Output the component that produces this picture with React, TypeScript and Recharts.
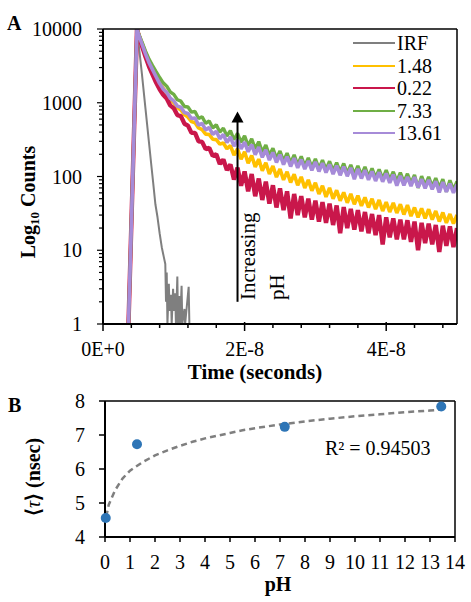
import { LineChart, Line, XAxis, YAxis, Legend, ReferenceLine, ReferenceDot, ComposedChart, Scatter } from 'recharts'

const FONT = "'Liberation Serif', 'Times New Roman', serif"

// Panel A: fluorescence decays, time in ns (axis labels in seconds)
const TIME_NS = [
  3.6, 4.8, 5, 5.5, 6, 6.5, 7, 7.5,
  8, 8.5, 9, 9.5, 10, 10.5, 11, 11.5, 12, 12.5,
  13, 13.5, 14, 14.5, 15, 15.5, 16, 16.5, 17, 17.5,
  18, 18.5, 19, 19.5, 20, 20.5, 21, 21.5, 22, 22.5,
  23, 23.5, 24, 24.5, 25, 25.5, 26, 26.5, 27, 27.5,
  28, 28.5, 29, 29.5, 30, 30.5, 31, 31.5, 32, 32.5,
  33, 33.5, 34, 34.5, 35, 35.5, 36, 36.5, 37, 37.5,
  38, 38.5, 39, 39.5, 40, 40.5, 41, 41.5, 42, 42.5,
  43, 43.5, 44, 44.5, 45, 45.5, 46, 46.5, 47, 47.5,
  48, 48.5, 49, 49.5, 50,
]
const PH148_COUNTS = [
  1, 10000, 8700, 6500, 4800, 3700, 2950, 2350,
  1900, 1570, 1360, 1130, 1000, 860, 800, 690, 640, 555,
  535, 455, 432, 375, 372, 320, 316, 275, 285, 238,
  262, 195, 237, 172, 216, 151, 193, 135, 172, 120,
  154, 108, 139, 98, 126, 90, 116, 83, 107, 76,
  99, 70, 90, 64, 82, 58, 75, 53, 70, 50,
  65, 47, 61, 44, 58, 42, 55, 40, 52, 38,
  50, 36, 48, 34, 45, 33, 44, 32, 42, 30.5,
  41, 29, 38, 28, 37, 27, 36, 26, 34, 24.5,
  32.5, 23.5, 31, 23, 30,
]
const PH022_COUNTS = [
  1, 10000, 8400, 5900, 4200, 3100, 2400, 1880,
  1520, 1280, 1140, 920, 840, 680, 660, 520, 490, 390,
  390, 300, 295, 235, 245, 190, 200, 148, 170, 122,
  146, 91, 132, 75, 117, 63, 108, 54, 94, 48,
  85, 43, 76, 38, 69, 35, 63, 27, 58, 30,
  54, 28, 50, 26, 47, 24.5, 45, 23.5, 43, 22,
  40.5, 17, 38.5, 20, 36.5, 19, 35, 18, 33, 17,
  31, 16, 30, 12, 28, 15, 27, 14, 26, 14,
  25.5, 13, 24.5, 10, 23.5, 12.5, 23, 12, 22, 9.5,
  21.5, 11.5, 21, 11, 20,
]
const PH733_COUNTS = [
  1, 10000, 8800, 6700, 5000, 3900, 3200, 2650,
  2200, 1860, 1680, 1400, 1300, 1100, 1050, 890, 875, 745,
  760, 611, 647, 525, 567, 454, 504, 398, 453, 354,
  419, 315, 384, 290, 356, 261, 325, 236, 297, 213,
  267, 192, 242, 175, 222, 162, 207, 152, 196, 144,
  187, 138, 179, 133, 173, 128, 167, 124, 161, 119,
  154, 115, 150, 110, 144, 107, 139, 104, 135, 99,
  129, 96, 125, 93, 122, 90, 116, 86, 113, 84,
  109, 81, 105, 70, 101, 76, 99, 73, 95, 70,
  92, 62, 89, 66, 86,
]
const PH1361_COUNTS = [
  1, 10000, 8600, 6300, 4600, 3500, 2800, 2250,
  1820, 1540, 1380, 1150, 1060, 900, 870, 735, 715, 610,
  620, 497, 524, 428, 464, 371, 410, 325, 372, 290,
  343, 258, 314, 237, 292, 216, 271, 198, 251, 182,
  230, 167, 212, 155, 198, 145, 186, 137, 177, 131,
  170, 126, 163, 121, 158, 117, 152, 113, 146, 108,
  140, 104, 136, 101, 131, 92, 127, 94, 122, 90,
  117, 87, 114, 85, 110, 82, 106, 75, 102, 76,
  99, 74, 98, 71, 92, 69, 90, 67, 86, 61,
  84, 62, 80, 60, 78,
]
const IRF_TIME_NS = [3.6, 4.8, 5.5, 6, 6.5, 6.8, 7.1, 7.4, 7.7, 8, 8.3, 8.6, 8.8, 8.9, 9, 9.1, 9.3, 9.4, 9.6, 9.7, 9.9, 10, 10.2, 10.3, 10.5, 10.6, 10.8, 10.9, 11.1, 11.2, 11.5, 11.6, 12.1, 12.2, 18.5]
const IRF_COUNTS = [1, 10000, 2450, 830, 285, 150, 80, 42, 28, 17, 11, 8, 6.5, 2, 5, 1, 3.5, 1.5, 2.5, 1, 3, 1.5, 2.6, 1, 4.4, 1, 2.4, 1, 3.3, 1, 1.6, 1, 3.2, 1, 1]

const X_TICKS_A = [0, 4, 8, 12, 16, 20, 24, 28, 32, 36, 40, 44, 48]
const X_LABELS_A: Record<number, string> = { 0: '0E+0', 20: '2E-8', 40: '4E-8' }
const Y_TICKS_A = [1, 2, 3, 4, 5, 6, 7, 8, 9, 10, 20, 30, 40, 50, 60, 70, 80, 90, 100, 200, 300, 400, 500, 600, 700, 800, 900, 1000, 2000, 3000, 4000, 5000, 6000, 7000, 8000, 9000, 10000]
const Y_MAJOR_A = [1, 10, 100, 1000, 10000]

// Panel B: mean lifetime vs pH
const PH = [0.03, 1.28, 7.19, 13.45]
const TAU_NS = [4.56, 6.73, 7.24, 7.84]
const FIT_PH = [0.05, 0.15, 0.4, 0.7, 1, 1.5, 2, 2.5, 3, 3.5, 4, 4.5, 5, 5.5, 6, 7, 8, 9, 10, 11, 12, 13, 13.5]
const FIT_TAU = [4.6, 4.95, 5.37, 5.72, 5.95, 6.2, 6.4, 6.55, 6.68, 6.8, 6.9, 6.98, 7.06, 7.14, 7.2, 7.31, 7.4, 7.48, 7.55, 7.61, 7.67, 7.72, 7.75]
const X_TICKS_B = [0, 1, 2, 3, 4, 5, 6, 7, 8, 9, 10, 11, 12, 13, 14]
const Y_TICKS_B = [4, 5, 6, 7, 8]
const R2_LABEL = 'R² = 0.94503'

const SERIES = [
  { name: 'IRF', color: '#7f7f7f', t: IRF_TIME_NS, c: IRF_COUNTS, w: 2 },
  { name: '1.48', color: '#ffc000', t: TIME_NS, c: PH148_COUNTS, w: 3.6 },
  { name: '0.22', color: '#c9174b', t: TIME_NS, c: PH022_COUNTS, w: 4.4 },
  { name: '7.33', color: '#6fae45', t: TIME_NS, c: PH733_COUNTS, w: 3.4 },
  { name: '13.61', color: '#a68bd8', t: TIME_NS, c: PH1361_COUNTS, w: 3.6 },
]

const points = PH.map((ph, i) => ({ ph, tau: TAU_NS[i] }))
const fit = FIT_PH.map((ph, i) => ({ ph, tau: FIT_TAU[i] }))

const txt = { fontFamily: FONT, fontSize: 20, fill: '#000' }

function YTickA({ x, y, payload }: any) {
  const major = Y_MAJOR_A.includes(payload.value)
  return (
    <g>
      <line x1={x - (major ? 6 : 4)} x2={x} y1={y} y2={y} stroke="#000" strokeWidth={1.2} />
      {major && <text x={x - 21} y={y} dy="0.36em" textAnchor="end" {...txt}>{payload.value}</text>}
    </g>
  )
}

function XTickA({ x, y, payload }: any) {
  const label = X_LABELS_A[payload.value]
  return (
    <g>
      <line x1={x} x2={x} y1={label ? y - 2 : y} y2={y + (label ? 7 : 4)} stroke="#000" strokeWidth={1.5} />
      {label && <text x={x} y={y} dy={32} textAnchor="middle" {...txt}>{label}</text>}
    </g>
  )
}

function YTickB({ x, y, payload }: any) {
  return (
    <g>
      <line x1={x - 6} x2={x} y1={y} y2={y} stroke="#000" strokeWidth={1.5} />
      <text x={x - 20} y={y} dy="0.36em" textAnchor="end" {...txt}>{payload.value}</text>
    </g>
  )
}

function XTickB({ x, y, payload }: any) {
  return (
    <g>
      <line x1={x} x2={x} y1={y} y2={y + 5} stroke="#000" strokeWidth={1.5} />
      <text x={x} y={y} dy={32} textAnchor="middle" {...txt}>{payload.value}</text>
    </g>
  )
}

function DecayLegend() {
  return (
    <div style={{ fontFamily: FONT, fontSize: 20, color: '#000' }}>
      {SERIES.map((s) => (
        <div key={s.name} style={{ display: 'flex', alignItems: 'center', height: 22.5, lineHeight: '22.5px' }}>
          <span style={{ width: 42, borderTop: `2px solid ${s.color}`, marginRight: 2 }} />
          <span>{s.name}</span>
        </div>
      ))}
    </div>
  )
}

const arrowHead = (p: any) => (
  <path d={`M${p.cx},${p.cy} L${p.cx - 6},${p.cy + 11} L${p.cx + 6},${p.cy + 11} Z`} fill="#000" />
)

const dot = (p: any) => <circle cx={p.cx} cy={p.cy} r={5} fill="#2e75b6" />

export default function App() {
  return (
    <div style={{ position: 'absolute', left: 0, top: 0, width: 471, height: 602, background: '#fff' }}>
      <div style={{ position: 'absolute', left: 0, top: 0 }}>
        <LineChart width={471} height={390} margin={{ top: 29, right: 14, bottom: 0, left: 0 }}>
          <XAxis
            type="number"
            dataKey="t"
            domain={[0, 50]}
            ticks={X_TICKS_A}
            interval={0}
            allowDataOverflow
            height={66}
            tickSize={0}
            tickMargin={0}
            tickLine={false}
            tick={<XTickA />}
            axisLine={{ stroke: '#000', strokeWidth: 2 }}
          />
          <YAxis
            type="number"
            scale="log"
            domain={[1, 10000]}
            ticks={Y_TICKS_A}
            interval={0}
            allowDataOverflow
            width={103}
            tickSize={0}
            tickMargin={0}
            tickLine={false}
            tick={<YTickA />}
            axisLine={{ stroke: '#000', strokeWidth: 2 }}
          />
          {SERIES.map((s) => (
            <Line
              key={s.name}
              data={s.t.map((t, i) => ({ t, c: s.c[i] }))}
              dataKey="c"
              name={s.name}
              type="linear"
              stroke={s.color}
              strokeWidth={s.w}
              strokeLinejoin="bevel"
              dot={false}
              activeDot={false}
              isAnimationActive={false}
            />
          ))}
          <ReferenceLine y={10000} stroke="#000" strokeWidth={1.5} />
          <ReferenceLine x={50} stroke="#000" strokeWidth={1.5} />
          <ReferenceLine segment={[{ x: 19, y: 2 }, { x: 19, y: 700 }]} stroke="#000" strokeWidth={2} />
          <ReferenceDot x={19} y={760} shape={arrowHead} />
          <Legend
            layout="vertical"
            align="center"
            verticalAlign="middle"
            content={<DecayLegend />}
            wrapperStyle={{ left: 353, top: 32, width: 110 }}
          />
        </LineChart>
      </div>

      <div style={{ position: 'absolute', left: 0, top: 390 }}>
        <ComposedChart width={471} height={212} margin={{ top: 11, right: 16, bottom: 0, left: 0 }}>
          <XAxis
            type="number"
            dataKey="ph"
            domain={[0, 14]}
            ticks={X_TICKS_B}
            interval={0}
            height={65}
            tickSize={0}
            tickMargin={0}
            tickLine={false}
            tick={<XTickB />}
            axisLine={{ stroke: '#000', strokeWidth: 2 }}
          />
          <YAxis
            type="number"
            dataKey="tau"
            domain={[4, 8]}
            ticks={Y_TICKS_B}
            interval={0}
            width={105}
            tickSize={0}
            tickMargin={0}
            tickLine={false}
            tick={<YTickB />}
            axisLine={{ stroke: '#000', strokeWidth: 2 }}
          />
          <ReferenceLine y={8} stroke="#000" strokeWidth={1.5} />
          <ReferenceLine x={14} stroke="#000" strokeWidth={1.5} />
          <Line data={fit} dataKey="tau" type="linear" stroke="#7f7f7f" strokeWidth={2.5} strokeDasharray="6 4" dot={false} activeDot={false} isAnimationActive={false} />
          <Scatter data={points} dataKey="tau" fill="#2e75b6" shape={dot} isAnimationActive={false} />
        </ComposedChart>
      </div>

      <svg width={471} height={602} style={{ position: 'absolute', left: 0, top: 0, pointerEvents: 'none' }}>
        <text x={7} y={30} {...txt} fontWeight="bold">A</text>
        <text x={8} y={412} {...txt} fontWeight="bold">B</text>
        <text transform="translate(35,202) rotate(-90)" textAnchor="middle" {...txt} fontWeight="bold">
          Log<tspan fontSize={13} dy={4}>10</tspan><tspan dy={-4}> Counts</tspan>
        </text>
        <text x={255} y={379} textAnchor="middle" {...txt} fontSize={21} fontWeight="bold">Time (seconds)</text>
        <text transform="translate(255,300) rotate(-90)" {...txt} fontSize={21}>Increasing</text>
        <text transform="translate(284,300) rotate(-90)" {...txt} fontSize={21}>pH</text>
        <text transform="translate(40,477) rotate(-90)" textAnchor="middle" {...txt} fontWeight="bold">
          ⟨<tspan fontStyle="italic" fontWeight="normal">τ</tspan>⟩ (nsec)
        </text>
        <text x={278} y={591} textAnchor="middle" {...txt} fontWeight="bold">pH</text>
        <text x={325} y={455} {...txt}>{R2_LABEL}</text>
      </svg>
    </div>
  )
}
